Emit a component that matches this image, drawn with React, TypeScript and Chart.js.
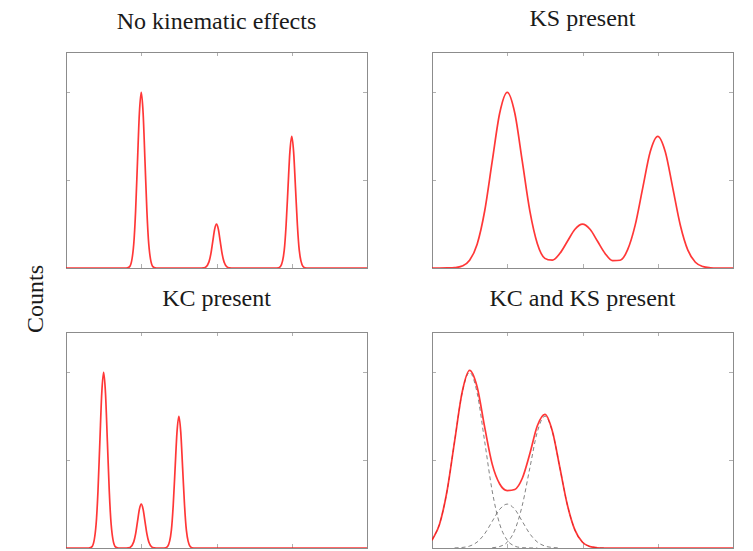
import React, { useEffect, useRef } from "react";
import { Chart, registerables } from "chart.js";

Chart.register(...registerables);

// ---- axes ----
const X_MIN = 0;
const X_MAX = 4;
const Y_MIN = 0;
const Y_MAX = 2.46;
const X_TICKS = [1, 2, 3];
const Y_TICKS = [1, 2];

// ---- text ----
const TITLES = ["No kinematic effects", "KS present", "KC present", "KC and KS present"];
const Y_LABEL = "Counts";

// ---- panel 1: no kinematic effects ----
const NOKIN_X = [
  0,
  0.8, 0.85, 0.9, 0.925, 0.95, 0.975, 1.0, 1.025, 1.05, 1.075, 1.1, 1.15, 1.2,
  1.8, 1.85, 1.9, 1.925, 1.95, 1.975, 2.0, 2.025, 2.05, 2.075, 2.1, 2.15, 2.2,
  2.8, 2.85, 2.9, 2.925, 2.95, 2.975, 3.0, 3.025, 3.05, 3.075, 3.1, 3.15, 3.2,
  4,
];
const NOKIN_Y = [
  0,
  0, 0.02, 0.27, 0.65, 1.21, 1.76, 2.0, 1.76, 1.21, 0.65, 0.27, 0.02, 0,
  0, 0.006, 0.07, 0.16, 0.3, 0.44, 0.5, 0.44, 0.3, 0.16, 0.07, 0.006, 0,
  0, 0.017, 0.2, 0.49, 0.91, 1.32, 1.5, 1.32, 0.91, 0.49, 0.2, 0.017, 0,
  0,
];

// ---- panel 2: KS present ----
const KS_X = [
  0, 0.1, 0.2, 0.3, 0.4, 0.5, 0.6, 0.7, 0.8, 0.9,
  1.0, 1.1, 1.2, 1.3, 1.4, 1.5, 1.6, 1.7, 1.8, 1.9,
  2.0, 2.1, 2.2, 2.3, 2.4, 2.5, 2.6, 2.7, 2.8, 2.9,
  3.0, 3.1, 3.2, 3.3, 3.4, 3.5, 3.6, 3.7, 3.8, 3.9, 4.0,
];
const KS_Y = [
  0, 0, 0.001, 0.004, 0.022, 0.088, 0.271, 0.649, 1.213, 1.765,
  2.0, 1.765, 1.213, 0.65, 0.277, 0.11, 0.09, 0.167, 0.304, 0.441,
  0.5, 0.441, 0.304, 0.166, 0.084, 0.088, 0.209, 0.488, 0.91, 1.324,
  1.5, 1.324, 0.91, 0.487, 0.203, 0.066, 0.017, 0.003, 0, 0, 0,
];

// ---- panel 3: KC present ----
const KC_X = [
  0,
  0.3, 0.35, 0.4, 0.425, 0.45, 0.475, 0.5, 0.525, 0.55, 0.575, 0.6, 0.65, 0.7,
  0.8, 0.85, 0.9, 0.925, 0.95, 0.975, 1.0, 1.025, 1.05, 1.075, 1.1, 1.15, 1.2,
  1.3, 1.35, 1.4, 1.425, 1.45, 1.475, 1.5, 1.525, 1.55, 1.575, 1.6, 1.65, 1.7,
  4,
];
const KC_Y = [
  0,
  0, 0.02, 0.27, 0.65, 1.21, 1.76, 2.0, 1.76, 1.21, 0.65, 0.27, 0.02, 0,
  0, 0.006, 0.07, 0.16, 0.3, 0.44, 0.5, 0.44, 0.3, 0.16, 0.07, 0.006, 0,
  0, 0.017, 0.2, 0.49, 0.91, 1.32, 1.5, 1.32, 0.91, 0.49, 0.2, 0.017, 0,
  0,
];

// ---- panel 4: KC and KS present ----
const BOTH_X = KS_X;
const BOTH_Y = [
  0.088, 0.271, 0.649, 1.214, 1.771, 2.022, 1.833, 1.376, 0.955, 0.729,
  0.654, 0.666, 0.794, 1.073, 1.392, 1.522, 1.33, 0.911, 0.487, 0.203,
  0.066, 0.017, 0.003, 0, 0, 0, 0, 0, 0, 0,
  0, 0, 0, 0, 0, 0, 0, 0, 0, 0, 0,
];
// dashed components
const COMP_A_X = [0, 0.1, 0.2, 0.3, 0.4, 0.5, 0.6, 0.7, 0.8, 0.9, 1.0, 1.1, 1.2, 1.3, 1.4];
const COMP_A_Y = [0.088, 0.271, 0.649, 1.213, 1.765, 2.0, 1.765, 1.213, 0.649, 0.271, 0.088, 0.022, 0.004, 0.001, 0];
const COMP_B_X = [0.3, 0.4, 0.5, 0.6, 0.7, 0.8, 0.9, 1.0, 1.1, 1.2, 1.3, 1.4, 1.5, 1.6, 1.7];
const COMP_B_Y = [0.001, 0.006, 0.022, 0.068, 0.162, 0.303, 0.441, 0.5, 0.441, 0.303, 0.162, 0.068, 0.022, 0.006, 0.001];
const COMP_C_X = [0.8, 0.9, 1.0, 1.1, 1.2, 1.3, 1.4, 1.5, 1.6, 1.7, 1.8, 1.9, 2.0, 2.1, 2.2, 2.3];
const COMP_C_Y = [0.003, 0.017, 0.066, 0.203, 0.487, 0.91, 1.324, 1.5, 1.324, 0.91, 0.487, 0.203, 0.066, 0.017, 0.003, 0];

type Series = { xs: number[]; ys: number[]; dashed?: boolean };
type PanelDef = {
  title: string;
  left: number;
  top: number;
  titleTop: number;
  series: Series[];
};

const BOX_W = 301;
const BOX_H = 216;
const PAD = 4;

const PANELS: PanelDef[] = [
  { title: TITLES[0], left: 66, top: 52, titleTop: 9, series: [{ xs: NOKIN_X, ys: NOKIN_Y }] },
  { title: TITLES[1], left: 432, top: 52, titleTop: 6, series: [{ xs: KS_X, ys: KS_Y }] },
  { title: TITLES[2], left: 66, top: 332, titleTop: 286, series: [{ xs: KC_X, ys: KC_Y }] },
  {
    title: TITLES[3],
    left: 432,
    top: 332,
    titleTop: 286,
    series: [
      { xs: BOTH_X, ys: BOTH_Y },
      { xs: COMP_A_X, ys: COMP_A_Y, dashed: true },
      { xs: COMP_B_X, ys: COMP_B_Y, dashed: true },
      { xs: COMP_C_X, ys: COMP_C_Y, dashed: true },
    ],
  },
];

const framePlugin = {
  id: "frame",
  beforeDatasetsDraw(chart: any) {
    const { ctx, chartArea } = chart;
    const { left, top, right, bottom } = chartArea;
    const sx = chart.scales.x;
    const sy = chart.scales.y;
    ctx.save();
    ctx.lineWidth = 1;
    ctx.strokeStyle = "#b0b0b0";
    const TL = 4;
    for (const v of X_TICKS) {
      const p = Math.round(sx.getPixelForValue(v)) + 0.5;
      ctx.beginPath();
      ctx.moveTo(p, bottom);
      ctx.lineTo(p, bottom - TL);
      ctx.moveTo(p, top);
      ctx.lineTo(p, top + TL);
      ctx.stroke();
    }
    for (const v of Y_TICKS) {
      const p = Math.round(sy.getPixelForValue(v)) + 0.5;
      ctx.beginPath();
      ctx.moveTo(left, p);
      ctx.lineTo(left + TL, p);
      ctx.moveTo(right, p);
      ctx.lineTo(right - TL, p);
      ctx.stroke();
    }
    ctx.strokeStyle = "#8c8c8c";
    ctx.strokeRect(left + 0.5, top + 0.5, right - left, bottom - top);
    ctx.restore();
  },
};

function PanelChart({ def }: { def: PanelDef }) {
  const ref = useRef<HTMLCanvasElement | null>(null);
  useEffect(() => {
    if (!ref.current) return;
    const datasets = def.series.map((s) => ({
      data: s.xs.map((x, i) => ({ x, y: s.ys[i] })),
      borderColor: s.dashed ? "rgba(90,90,90,0.75)" : "rgba(255,20,20,0.85)",
      borderWidth: s.dashed ? 1 : 1.7,
      borderDash: s.dashed ? [4, 3] : [],
      pointRadius: 0,
      fill: false,
      cubicInterpolationMode: "monotone" as const,
    }));
    const chart = new Chart(ref.current, {
      type: "line",
      data: { datasets },
      plugins: [framePlugin],
      options: {
        animation: false,
        responsive: false,
        maintainAspectRatio: false,
        layout: { padding: PAD },
        plugins: { legend: { display: false }, tooltip: { enabled: false } },
        scales: {
          x: { type: "linear", min: X_MIN, max: X_MAX, display: false, ticks: { stepSize: 1 } },
          y: { type: "linear", min: Y_MIN, max: Y_MAX, display: false, ticks: { stepSize: 1 } },
        },
      },
    });
    return () => chart.destroy();
  }, [def]);
  return (
    <canvas
      ref={ref}
      width={BOX_W + 2 * PAD}
      height={BOX_H + 2 * PAD}
      style={{
        position: "absolute",
        left: def.left - PAD,
        top: def.top - PAD,
        width: BOX_W + 2 * PAD,
        height: BOX_H + 2 * PAD,
      }}
    />
  );
}

export default function App() {
  const font = '"Liberation Serif", "Times New Roman", serif';
  return (
    <div
      style={{
        position: "absolute",
        left: 0,
        top: 0,
        width: 753,
        height: 551,
        background: "#fff",
        overflow: "hidden",
        fontFamily: font,
      }}
    >
      {PANELS.map((p, i) => (
        <div
          key={"t" + i}
          style={{
            position: "absolute",
            left: p.left + BOX_W / 2,
            top: p.titleTop,
            transform: "translateX(-50%)",
            fontSize: 24,
            lineHeight: "24px",
            whiteSpace: "nowrap",
            color: "#1a1a1a",
          }}
        >
          {p.title}
        </div>
      ))}
      <div
        style={{
          position: "absolute",
          left: 35 - 50,
          top: 299 - 12,
          width: 100,
          height: 24,
          lineHeight: "24px",
          fontSize: 24,
          textAlign: "center",
          transform: "rotate(-90deg)",
          whiteSpace: "nowrap",
          color: "#1a1a1a",
        }}
      >
        {Y_LABEL}
      </div>
      {PANELS.map((p, i) => (
        <PanelChart key={"c" + i} def={p} />
      ))}
    </div>
  );
}
